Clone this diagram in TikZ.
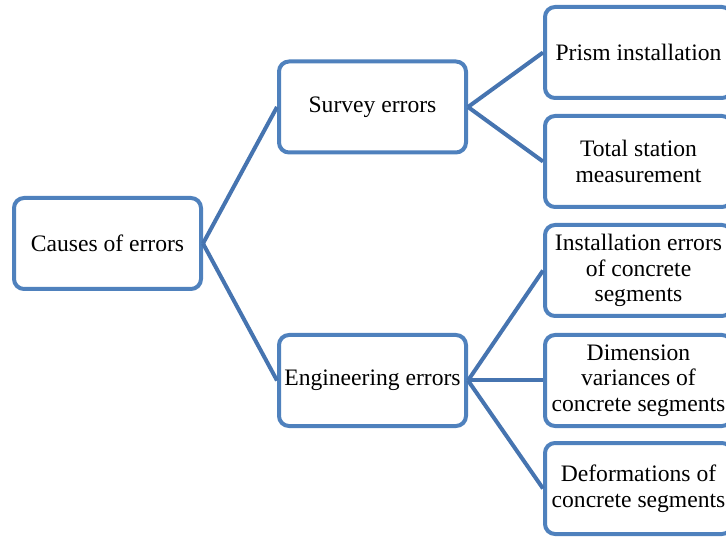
\documentclass[tikz,border=0pt]{standalone}
\usepackage{fontspec}
\setmainfont{Liberation Serif}
\definecolor{boxblue}{HTML}{4F81BD}
\definecolor{linkblue}{HTML}{4674B0}
\begin{document}
\begin{tikzpicture}[x=1pt,y=-1pt,
  box/.style={draw=boxblue, line width=4pt, rounded corners=10pt, fill=white,
    minimum width=187pt, minimum height=91pt, align=center, inner sep=0pt,
    font=\fontsize{23.6}{25.5}\selectfont},
  link/.style={draw=linkblue, line width=4pt}]
\useasboundingbox (0,0) rectangle (726,537);
\clip (0,0) rectangle (726,537);
\node[box] (root) at (107.5,243.5) {Causes of errors};
\node[box] (survey) at (372.5,107) {Survey errors};
\node[box] (eng) at (372.5,380.5) {Engineering errors};
\node[box] (prism) at (638.5,52.5) {Prism installation};
\node[box] (total) at (638.5,161.5) {Total station\\measurement};
\node[box] (inst) at (638.5,270.5) {Installation errors\\of concrete\\segments};
\node[box] (dim) at (638.5,380.5) {Dimension\\variances of\\concrete segments};
\node[box] (def) at (638.5,488.5) {Deformations of\\concrete segments};
\draw[link] (root.east) -- (survey.west);
\draw[link] (root.east) -- (eng.west);
\draw[link] (survey.east) -- (prism.west);
\draw[link] (survey.east) -- (total.west);
\draw[link] (eng.east) -- (inst.west);
\draw[link] (eng.east) -- (dim.west);
\draw[link] (eng.east) -- (def.west);
\end{tikzpicture}
\end{document}
